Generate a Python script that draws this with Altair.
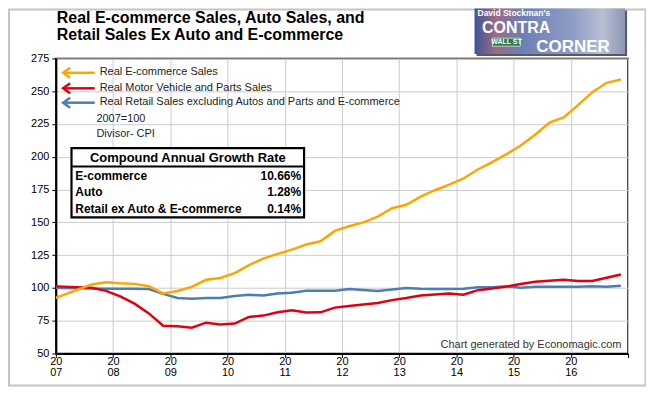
import altair as alt
import pandas as pd

# ---------------- data ----------------
quarters = [f"{y}Q{q}" for y in range(2006, 2017) for q in range(1, 5)][3:]  # 2006Q4 .. 2016Q4

ecommerce = [90.5, 94.5, 98.6, 102.7, 104.3, 103.5, 103.1, 101.3, 95.8, 97.7, 100.8,
             106.2, 107.6, 111.3, 117.4, 122.3, 126.0, 129.2, 133.1, 135.6, 143.5,
             147.0, 150.0, 154.4, 160.8, 163.4, 169.6, 174.5, 178.8, 183.5, 190.3,
             196.0, 202.0, 208.6, 216.8, 226.0, 230.0, 239.4, 249.3, 256.4, 259.0]
auto = [101.5, 101.0, 100.5, 100.1, 97.8, 93.6, 88.0, 80.6, 71.2, 70.7, 69.7,
        73.5, 72.2, 72.8, 77.9, 78.9, 81.5, 83.0, 81.2, 81.4, 85.0,
        86.2, 87.3, 88.5, 90.7, 92.3, 94.3, 95.0, 95.7, 94.8, 98.3,
        99.5, 101.0, 103.0, 104.8, 105.5, 106.2, 105.3, 105.3, 107.8, 110.2]
retail = [100.2, 100.0, 99.7, 99.5, 99.4, 99.4, 99.4, 99.2, 95.5, 92.3, 91.8,
          92.3, 92.4, 93.8, 94.8, 94.2, 95.7, 96.3, 97.9, 97.8, 97.9,
          99.2, 98.5, 97.6, 98.8, 100.0, 99.3, 99.2, 99.2, 99.3, 100.6,
          100.5, 101.3, 100.1, 100.9, 100.9, 100.9, 100.9, 101.2, 100.9, 101.7]

series_names = ["Real E-commerce Sales",
                "Real Motor Vehicle and Parts Sales",
                "Real Retail Sales excluding Autos and Parts and E-commerce"]
series_colors = ["#FFA500", "#E0000E", "#4A7EB5"]
notes = ["2007=100", "Divisor- CPI"]
cagr_title = "Compound Annual Growth Rate"
cagr_labels = ["E-commerce", "Auto", "Retail ex Auto & E-commerce"]
cagr_values = ["10.66%", "1.28%", "0.14%"]
title_lines = ["Real E-commerce Sales, Auto Sales, and", "Retail Sales Ex Auto and E-commerce"]
logo_texts = ["David Stockman's", "CONTRA", "WALL ST", "CORNER"]
credit = "Chart generated by Economagic.com"
year_ticks = list(range(2007, 2018))
value_ticks = list(range(50, 276, 25))

FONT = "Liberation Sans"

# ---------------- frame ----------------
pos = [int(s[:4]) + (int(s[-1]) - 0.5) / 4 for s in quarters]
rows = []
for name, vals in zip(series_names, [ecommerce, auto, retail]):
    for p, v in zip(pos, vals):
        rows.append({"t": p, "v": v, "s": name})
df = pd.DataFrame(rows)


def one(text):
    return pd.DataFrame({"txt": [text]})


def txt(text, x, y, **kw):
    base = dict(font=FONT, fontSize=11, color="#222222", align="left", baseline="middle")
    base.update(kw)
    return alt.Chart(one(text)).mark_text(**base).encode(
        text="txt:N", x=alt.value(x), y=alt.value(y))


def box(x, x2, y, y2, **kw):
    return alt.Chart(one("")).mark_rect(**kw).encode(
        x=alt.value(x), x2=alt.value(x2), y=alt.value(y), y2=alt.value(y2))


frame = box(-47, 591.5, -49, 328.2, fill=None, stroke="#c4c4c4", strokeWidth=2)

xscale = alt.Scale(domain=[2007, 2017], nice=False, zero=False)
yscale = alt.Scale(domain=[50, 275], nice=False, zero=False)

lines = alt.Chart(df).mark_line(strokeWidth=2.5, clip=True).encode(
    x=alt.X("t:Q", scale=xscale, title=None,
            axis=alt.Axis(values=year_ticks, format="d", grid=True,
                          labelExpr="datum.value >= 2017 ? '' : [substring(datum.label,0,2), substring(datum.label,2,4)]",
                          labelFlush=False, labelOverlap=False, labelLineHeight=11,
                          labelBaseline="top", labelPadding=-2, tickSize=4)),
    y=alt.Y("v:Q", scale=yscale, title=None,
            axis=alt.Axis(values=value_ticks, grid=True, tickSize=4, labelPadding=3,
                          labelOverlap=False, labelFlush=False)),
    color=alt.Color("s:N", scale=alt.Scale(domain=series_names, range=series_colors), legend=None),
    order=alt.Order("t:Q"),
    detail="s:N",
)
# draw blue, red, orange (orange on top)
line_layers = [
    lines.transform_filter(alt.datum.s == series_names[2]),
    lines.transform_filter(alt.datum.s == series_names[1]),
    lines.transform_filter(alt.datum.s == series_names[0]),
]

# ---------------- legend arrows ----------------
legend_layers = []
for name, col, yy in zip(series_names, series_colors, [14.4, 30.0, 44.4]):
    legend_layers.append(
        alt.Chart(one(name)).mark_rule(color=col, strokeWidth=2.5).encode(
            x=alt.value(8), x2=alt.value(39), y=alt.value(yy)))
    legend_layers.append(
        alt.Chart(one(name)).mark_point(shape="M 0.4 -1 L -1 0 L 0.4 1", size=100,
                                        filled=False, strokeWidth=2.5, color=col, opacity=1).encode(
            x=alt.value(12.3), y=alt.value(yy)))
    legend_layers.append(txt(name, 44, yy - 0.5))
legend_layers.append(txt(notes[0], 40.7, 60.7, color="#1c1c3c"))
legend_layers.append(txt(notes[1], 40.7, 75.7, color="#1c1c3c"))

# ---------------- CAGR table ----------------
table_layers = [
    box(15.7, 249, 90, 159.4, fill="white", stroke="black", strokeWidth=2.2),
    alt.Chart(one("")).mark_rule(color="black", strokeWidth=2).encode(
        x=alt.value(15.7), x2=alt.value(249), y=alt.value(108.4)),
    txt(cagr_title, 132.4, 100, align="center", fontSize=13, fontWeight="bold", color="black"),
]
for lab, val, yy in zip(cagr_labels, cagr_values, [117.7, 134.4, 151.0]):
    table_layers.append(txt(lab, 19.5, yy, fontSize=12, fontWeight="bold", color="black"))
    table_layers.append(txt(val, 246, yy, align="right", fontSize=12, fontWeight="bold", color="black"))

# ---------------- title, logo, credit ----------------
title_layers = [
    txt(title_lines[0], 1, -35.5, fontSize=16, fontWeight="bold", color="black", baseline="alphabetic"),
    txt(title_lines[1], 1, -18.8, fontSize=16, fontWeight="bold", color="black", baseline="alphabetic"),
]

logo_grad = alt.Gradient(
    gradient="linear", x1=0, x2=1, y1=0, y2=0,
    stops=[alt.GradientStop(color="#3f5596", offset=0),
           alt.GradientStop(color="#9a6b86", offset=0.14),
           alt.GradientStop(color="#6d7fb4", offset=0.32),
           alt.GradientStop(color="#8e9cc6", offset=0.65),
           alt.GradientStop(color="#b7bfd3", offset=0.85),
           alt.GradientStop(color="#8d97b3", offset=1)])
logo_layers = [
    box(422, 573, -48, -2.5, fill="#555a66", stroke=None),
    box(420, 571, -50, -4.5, fill=logo_grad, stroke=None),
    txt(logo_texts[0], 423, -45.3, fontSize=8.5, fontWeight="bold", color="#ffffff"),
    txt(logo_texts[1], 427.5, -30.8, fontSize=16, fontWeight="bold", color="#ffffff"),
    box(438, 466, -20.3, -12.3, fill="#2f7a4c", stroke="#d8e8dc", strokeWidth=0.8),
    txt(logo_texts[2], 452, -16.3, fontSize=7, fontWeight="bold", color="#ffffff", align="center"),
    txt(logo_texts[3], 482, -11.6, fontSize=17, fontWeight="bold", color="#ffffff"),
]

credit_layer = txt(credit, 567.3, 287, align="right", fontSize=11, color="#333333")

chart = alt.layer(
    frame, *line_layers, *legend_layers, *table_layers, *title_layers, *logo_layers, credit_layer
).properties(
    width=574, height=296,
    autosize=alt.AutoSizeParams(type="none"),
    padding={"left": 48, "top": 50, "right": 18, "bottom": 34},
    background="white",
).configure_view(
    stroke="black", strokeWidth=1.5
).configure_axis(
    labelFont=FONT, labelFontSize=11, labelColor="black",
    domainColor="black", domainWidth=2, tickColor="black", tickWidth=1,
    gridColor="#cccccc", gridWidth=1,
)

chart.save("out.html", embed_options={"renderer": "svg", "actions": False})
